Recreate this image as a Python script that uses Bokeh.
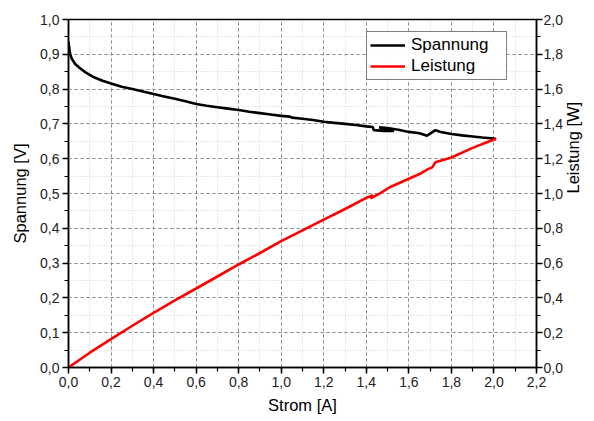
import math
from bokeh.plotting import figure
from bokeh.models import Range1d, LinearAxis, SingleIntervalTicker, CustomJSTickFormatter, Legend, LegendItem
from bokeh.embed import file_html
from bokeh.resources import INLINE

# Strom [A] / Spannung [V]
strom_v = [0.000, 0.003, 0.008, 0.015, 0.03, 0.05, 0.08, 0.12, 0.16, 0.20, 0.25, 0.30, 0.35, 0.40,
           0.45, 0.50, 0.55, 0.60, 0.65, 0.70, 0.75, 0.80, 0.85, 0.90, 0.95, 1.00, 1.04, 1.05, 1.10,
           1.15, 1.20, 1.25, 1.30, 1.35, 1.40, 1.43, 1.435, 1.48, 1.53, 1.46, 1.50, 1.55, 1.60,
           1.65, 1.685, 1.70, 1.725, 1.75, 1.80, 1.85, 1.90, 1.945, 2.00, 2.01]
spannung = [0.936, 0.920, 0.900, 0.888, 0.873, 0.862, 0.848, 0.834, 0.824, 0.816, 0.807, 0.800,
            0.793, 0.786, 0.779, 0.772, 0.765, 0.757, 0.752, 0.748, 0.744, 0.740, 0.735, 0.731,
            0.727, 0.723, 0.721, 0.718, 0.715, 0.711, 0.706, 0.703, 0.700, 0.697, 0.693, 0.691,
            0.682, 0.680, 0.680, 0.690, 0.688, 0.683, 0.677, 0.673, 0.666, 0.672, 0.682, 0.677,
            0.671, 0.667, 0.664, 0.661, 0.658, 0.656]

# Strom [A] / Leistung [W]
strom_p = [0.00, 0.10, 0.20, 0.30, 0.40, 0.50, 0.60, 0.70, 0.80, 0.90, 1.00, 1.10, 1.20, 1.30,
           1.40, 1.43, 1.42, 1.47, 1.51, 1.60, 1.65, 1.69, 1.71, 1.725, 1.80, 1.90, 1.945, 2.01]
leistung = [0.000, 0.085, 0.163, 0.240, 0.314, 0.386, 0.454, 0.523, 0.592, 0.658, 0.726, 0.788,
            0.850, 0.911, 0.975, 0.990, 0.972, 1.005, 1.036, 1.085, 1.112, 1.140, 1.150, 1.180,
            1.207, 1.262, 1.284, 1.315]

FONT = "Liberation Sans"

p = figure(width=593, height=420, output_backend="svg", toolbar_location=None,
           x_range=Range1d(0, 2.2), y_range=Range1d(0, 1.0),
           min_border_left=68, min_border_right=52, min_border_top=19, min_border_bottom=53)
p.extra_y_ranges = {"power": Range1d(0, 2.0)}

fmt = CustomJSTickFormatter(code="return tick.toFixed(1).replace('.', ',');")

def style_axis(ax, label):
    ax.axis_label = label
    ax.axis_label_text_font = FONT
    ax.axis_label_text_font_size = "16.5px"
    ax.axis_label_text_font_style = "normal"
    ax.axis_label_text_color = "black"
    ax.major_label_text_font = FONT
    ax.major_label_text_font_size = "14px"
    ax.major_label_text_color = "#222222"
    ax.axis_line_color = "black"
    ax.axis_line_width = 1.5
    ax.major_tick_line_color = "black"
    ax.major_tick_line_width = 1.5
    ax.minor_tick_line_color = "black"
    ax.minor_tick_line_width = 1.2
    ax.major_tick_out = 6
    ax.major_tick_in = 0
    ax.minor_tick_out = 4
    ax.minor_tick_in = 0
    ax.major_label_standoff = 3
    ax.axis_label_standoff = 8
    ax.formatter = fmt

p.xaxis.ticker = SingleIntervalTicker(interval=0.2, num_minor_ticks=2)
p.yaxis.ticker = SingleIntervalTicker(interval=0.1, num_minor_ticks=2)
style_axis(p.xaxis[0], "Strom [A]")
style_axis(p.yaxis[0], "Spannung [V]")
p.xaxis.axis_label_standoff = 6

rax = LinearAxis(y_range_name="power", ticker=SingleIntervalTicker(interval=0.2, num_minor_ticks=2))
style_axis(rax, "Leistung [W]")
rax.major_label_standoff = 1
rax.axis_label_standoff = 7
rax.axis_label_orientation = math.pi / 2
rax.axis_label_text_baseline = "top"
p.add_layout(rax, "right")

for g in (p.xgrid[0], p.ygrid[0]):
    g.grid_line_color = "#8a8a8a"
    g.grid_line_dash = "3 3"
    g.grid_line_width = 1
    g.minor_grid_line_color = "#d0d0d0"
    g.minor_grid_line_dash = "1 2"
    g.minor_grid_line_width = 1

p.outline_line_color = "black"
p.outline_line_width = 1.5

r1 = p.line(strom_v, spannung, line_color="black", line_width=2.6)
r2 = p.line(strom_p, leistung, line_color="#ff0000", line_width=2.6, y_range_name="power")

legend = Legend(items=[LegendItem(label="Spannung", renderers=[r1]),
                       LegendItem(label="Leistung", renderers=[r2])],
                location=(298, 287))
legend.label_text_font = FONT
legend.label_text_font_size = "17px"
legend.label_text_color = "black"
legend.glyph_width = 35
legend.glyph_height = 20
legend.label_height = 20
legend.label_width = 92
legend.spacing = 1
legend.padding = 3
legend.label_standoff = 6
legend.border_line_color = "black"
legend.border_line_width = 1
legend.margin = 0
p.add_layout(legend, "center")

open("out.html", "w").write(file_html(p, INLINE))
